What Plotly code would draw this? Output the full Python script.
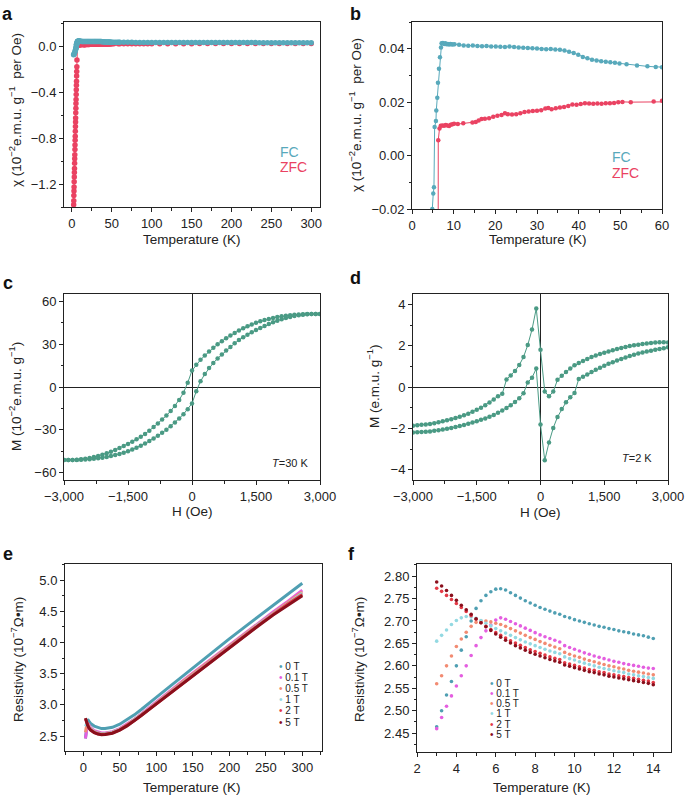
import plotly.graph_objects as go

W, H = 685, 795

# ---------------- Panels a / b : susceptibility ----------------
fc_temp = [2.0, 2.5, 3.0, 3.5, 4.0, 4.5, 4.87, 5.1, 5.27, 5.43, 5.75, 5.83, 6.07, 6.23, 6.47, 6.71, 6.95,
           7.1, 7.4, 7.7, 8.0, 8.3, 8.6, 8.9, 9.2, 9.5, 9.8, 10.2,
           11.3, 12.4, 13.5, 14.6, 15.7, 16.8, 17.9, 19.0, 20.1, 21.2, 22.3, 23.4, 24.5, 25.6, 26.7, 27.8,
           28.9, 30.0, 31.1, 32.2, 33.3, 34.4, 35.5, 36.6, 37.7, 38.8, 39.9, 41.0, 42.1, 43.2, 44.3, 45.4,
           46.5, 47.6, 48.7, 49.8, 51.5, 54.0, 56.5, 58.5, 60.0,
           65, 70, 75, 80, 85, 90, 95, 100, 105, 110, 115, 120, 125, 130, 135, 140, 145, 150, 155, 160,
           165, 170, 175, 180, 185, 190, 195, 200, 205, 210, 215, 220, 225, 230, 235, 240, 245, 250, 255,
           260, 265, 270, 275, 280, 285, 290, 295, 300]
fc_chi = [-0.075, -0.071, -0.064, -0.054, -0.043, -0.031, -0.020, -0.0142, -0.0119, 0.0107, 0.0129, 0.0169,
          0.0216, 0.0273, 0.0325, 0.0368, 0.0405,
          0.0420, 0.0421, 0.0418, 0.0420, 0.0417, 0.0418, 0.0416, 0.0418, 0.0417, 0.0416, 0.0417,
          0.0415, 0.0412, 0.0411, 0.0412, 0.0410, 0.0409, 0.0410, 0.0408, 0.0408, 0.0407, 0.0406, 0.0408,
          0.0406, 0.0405, 0.0404, 0.0403, 0.0402, 0.0401, 0.0399, 0.0398, 0.0399, 0.0397, 0.0396, 0.0393,
          0.0389, 0.0384, 0.0377, 0.0369, 0.0364, 0.0359, 0.0356, 0.0353, 0.0351, 0.0349, 0.0347, 0.0345,
          0.0342, 0.0337, 0.0334, 0.0332, 0.0331,
          0.0329, 0.0328, 0.0327, 0.0326, 0.0325, 0.0324, 0.0323, 0.0322, 0.0322, 0.0321, 0.0320, 0.0319,
          0.0318, 0.0318, 0.0317, 0.0316, 0.0316, 0.0315, 0.0314, 0.0314, 0.0313, 0.0312, 0.0312, 0.0311,
          0.0311, 0.0310, 0.0309, 0.0309, 0.0308, 0.0308, 0.0307, 0.0307, 0.0306, 0.0306, 0.0305, 0.0305,
          0.0304, 0.0304, 0.0303, 0.0303, 0.0302, 0.0302, 0.0302, 0.0301, 0.0301, 0.0300, 0.0300, 0.0300]

zfc_temp = [2.0, 2.1, 2.25, 2.35, 2.5, 2.6, 2.75, 2.9, 3.0, 3.15, 3.3, 3.4, 3.55, 3.7, 3.8, 3.95, 4.1,
            4.2, 4.35, 4.5, 4.6, 4.75, 4.9, 5.0, 5.15, 5.3, 5.4, 5.55, 5.7, 5.8, 5.95, 6.1, 6.25,
            6.3, 6.6, 6.9, 7.3, 7.7, 8.1, 8.5, 8.9, 9.3, 9.7, 10.1, 11.0, 12.3, 14.5, 15.3, 16.0, 16.7,
            17.5, 18.5, 19.5, 20.5, 21.5, 22.3, 23.0, 24.0, 25.0, 26.0, 27.0, 28.0, 29.0, 30.0, 31.0,
            32.0, 32.7, 33.5, 34.5, 35.5, 36.5, 37.5, 38.5, 39.5, 40.5, 41.5, 42.5, 43.5, 44.5, 45.5,
            46.5, 47.5, 48.5, 49.5, 50.5, 52.5, 58.0, 60.0,
            65, 70, 75, 80, 85, 90, 95, 100, 110, 120, 130, 140, 150, 160, 170, 180, 190, 200, 210, 220,
            230, 240, 250, 260, 270, 280, 290, 300]
zfc_chi = [-1.42, -1.38, -1.345, -1.30, -1.26, -1.225, -1.18, -1.14, -1.10, -1.065, -1.02, -0.98, -0.945,
           -0.90, -0.86, -0.82, -0.785, -0.74, -0.70, -0.66, -0.625, -0.58, -0.54, -0.50, -0.465, -0.42,
           -0.38, -0.34, -0.305, -0.26, -0.22, -0.18, -0.12,
           0.0057, 0.0101, 0.0112, 0.0113, 0.0112, 0.0114, 0.0113, 0.0111, 0.0115, 0.0117, 0.0119, 0.0118,
           0.0121, 0.0124, 0.0126, 0.0131, 0.0137, 0.0138, 0.0140, 0.0145, 0.0149, 0.0152, 0.0158, 0.0155,
           0.0154, 0.0155, 0.0158, 0.0163, 0.0165, 0.0167, 0.0168, 0.0170, 0.0176, 0.0178, 0.0173, 0.0177,
           0.0180, 0.0182, 0.0186, 0.0191, 0.0190, 0.0193, 0.0196, 0.0195, 0.0194, 0.0195, 0.0194, 0.0196,
           0.0196, 0.0197, 0.0200, 0.0201, 0.0200, 0.0202, 0.0205,
           0.0207, 0.0208, 0.0209, 0.0210, 0.0211, 0.0212, 0.0212, 0.0213, 0.0214, 0.0215, 0.0216, 0.0217,
           0.0218, 0.0219, 0.0220, 0.0221, 0.0222, 0.0223, 0.0224, 0.0225, 0.0226, 0.0227, 0.0228, 0.0229,
           0.0230, 0.0231, 0.0232, 0.0233]

# ---------------- Panels c / d : M-H loops ----------------
field_oe = [-3000, -2900, -2800, -2700, -2600, -2500, -2400, -2300, -2200, -2100, -2000, -1900, -1800,
            -1700, -1600, -1500, -1400, -1300, -1200, -1100, -1000, -900, -800, -700, -600, -500, -400,
            -300, -200, -100, 0, 100, 200, 300, 400, 500, 600, 700, 800, 900, 1000, 1100, 1200, 1300,
            1400, 1500, 1600, 1700, 1800, 1900, 2000, 2100, 2200, 2300, 2400, 2500, 2600, 2700, 2800,
            2900, 3000]
m30_down = [-51.0, -51.0, -51.0, -50.8, -50.5, -50.1, -49.6, -49.0, -48.2, -47.3, -46.3, -45.2, -44.0,
            -42.6, -41.2, -39.8, -38.3, -36.6, -34.8, -32.8, -30.5, -28.0, -25.5, -22.8, -20.0, -16.8,
            -13.2, -9.0, -4.0, 3.0, 11.5, 15.5, 19.0, 22.0, 24.8, 27.4, 29.8, 32.0, 34.1, 36.0, 37.8,
            39.5, 41.0, 42.4, 43.7, 44.9, 45.9, 46.8, 47.6, 48.3, 48.9, 49.4, 49.8, 50.2, 50.5, 50.7,
            50.9, 51.0, 51.0, 51.0, 51.0]
m30_up = [-51.0, -51.0, -51.0, -51.0, -50.9, -50.7, -50.5, -50.2, -49.8, -49.4, -48.9, -48.3, -47.6,
          -46.8, -45.9, -44.9, -43.7, -42.4, -41.0, -39.5, -37.8, -36.0, -34.1, -32.0, -29.8, -27.4,
          -24.8, -22.0, -19.0, -15.5, -11.5, -3.0, 4.0, 9.0, 13.2, 16.8, 20.0, 22.8, 25.5, 28.0, 30.5,
          32.8, 34.8, 36.6, 38.3, 39.8, 41.2, 42.6, 44.0, 45.2, 46.3, 47.3, 48.2, 49.0, 49.6, 50.1,
          50.5, 50.8, 51.0, 51.0, 51.0]
m2_branch1 = [-1.87, -1.85, -1.83, -1.82, -1.79, -1.75, -1.71, -1.66, -1.61, -1.56, -1.50, -1.44, -1.37,
              -1.29, -1.20, -1.10, -1.00, -0.88, -0.75, -0.60, -0.45, -0.33, 0.36, 0.56, 0.78, 1.06,
              1.45, 2.03, 2.78, 3.80, 1.80, -0.22, -0.45, -0.22, 0.35, 0.55, 0.72, 0.90, 1.05, 1.16,
              1.26, 1.36, 1.45, 1.53, 1.60, 1.66, 1.72, 1.78, 1.84, 1.89, 1.94, 1.98, 2.02, 2.05, 2.08,
              2.11, 2.13, 2.15, 2.16, 2.16, 2.15]
m2_branch2 = [-2.20, -2.19, -2.18, -2.17, -2.15, -2.12, -2.09, -2.06, -2.02, -1.98, -1.94, -1.89, -1.84,
              -1.78, -1.72, -1.66, -1.59, -1.52, -1.44, -1.35, -1.25, -1.14, -1.02, -0.88, -0.72, -0.55,
              -0.30, 0.22, 0.45, 0.89, -1.82, -3.55, -2.68, -1.98, -1.45, -1.06, -0.74, -0.50, -0.29,
              0.39, 0.50, 0.61, 0.72, 0.83, 0.93, 1.03, 1.12, 1.20, 1.28, 1.36, 1.43, 1.50, 1.56, 1.62,
              1.67, 1.72, 1.76, 1.80, 1.84, 1.88, 1.92]

# ---------------- Panel e : resistivity 0-300 K ----------------
field_labels = ["0 T", "0.1 T", "0.5 T", "1 T", "2 T", "5 T"]
field_colors = ["#4f9fb2", "#e45ee0", "#f28b72", "#93d9e2", "#e43a46", "#8a0f1c"]
temp_e = [3, 4, 5, 6, 8, 10, 15, 20, 25, 30, 40, 50, 60, 70, 80, 90, 100, 120, 140, 160, 180, 200, 220,
          240, 260, 280, 300]
rho_e = [
    [2.46, 2.60, 2.73, 2.77, 2.735, 2.703, 2.66, 2.635, 2.62, 2.62, 2.64, 2.69, 2.76, 2.84, 2.93, 3.02,
     3.12, 3.31, 3.50, 3.69, 3.88, 4.06, 4.24, 4.42, 4.60, 4.78, 4.95],
    [2.46, 2.555, 2.645, 2.702, 2.674, 2.637, 2.585, 2.56, 2.548, 2.55, 2.57, 2.62, 2.69, 2.77, 2.86,
     2.95, 3.04, 3.23, 3.42, 3.60, 3.78, 3.96, 4.13, 4.31, 4.49, 4.66, 4.84],
    [2.56, 2.643, 2.697, 2.695, 2.659, 2.622, 2.575, 2.55, 2.54, 2.542, 2.562, 2.612, 2.68, 2.76, 2.85,
     2.94, 3.03, 3.22, 3.41, 3.59, 3.77, 3.95, 4.12, 4.30, 4.47, 4.64, 4.81],
    [2.655, 2.701, 2.706, 2.683, 2.645, 2.613, 2.568, 2.545, 2.535, 2.537, 2.557, 2.607, 2.675, 2.755,
     2.845, 2.935, 3.025, 3.21, 3.40, 3.58, 3.76, 3.94, 4.11, 4.29, 4.46, 4.63, 4.79],
    [2.773, 2.739, 2.704, 2.674, 2.632, 2.601, 2.56, 2.537, 2.527, 2.53, 2.55, 2.60, 2.668, 2.748, 2.838,
     2.928, 3.018, 3.20, 3.39, 3.57, 3.75, 3.93, 4.10, 4.28, 4.45, 4.62, 4.77],
    [2.787, 2.746, 2.705, 2.671, 2.626, 2.596, 2.555, 2.532, 2.522, 2.525, 2.545, 2.595, 2.663, 2.743,
     2.833, 2.923, 3.013, 3.195, 3.38, 3.56, 3.74, 3.92, 4.09, 4.27, 4.44, 4.60, 4.75],
]

# ---------------- Panel f : resistivity 3-14 K ----------------
temp_f = [3.0, 3.25, 3.5, 3.75, 4.0, 4.25, 4.5, 4.75, 5.0, 5.25, 5.5, 5.75, 6.0, 6.25, 6.5, 6.75, 7.0,
          7.25, 7.5, 7.75, 8.0, 8.25, 8.5, 8.75, 9.0, 9.25, 9.5, 9.75, 10.0, 10.25, 10.5, 10.75, 11.0,
          11.25, 11.5, 11.75, 12.0, 12.25, 12.5, 12.75, 13.0, 13.25, 13.5, 13.75, 14.0]
rho_f = [
    [2.464, 2.500, 2.535, 2.565, 2.600, 2.635, 2.665, 2.700, 2.728, 2.745, 2.757, 2.765, 2.771, 2.772,
     2.769, 2.763, 2.757, 2.751, 2.745, 2.740, 2.735, 2.730, 2.726, 2.722, 2.718, 2.715, 2.710, 2.707,
     2.703, 2.700, 2.697, 2.694, 2.691, 2.688, 2.686, 2.683, 2.681, 2.678, 2.676, 2.674, 2.671, 2.669,
     2.667, 2.664, 2.661],
    [2.460, 2.485, 2.510, 2.533, 2.555, 2.578, 2.600, 2.623, 2.645, 2.663, 2.678, 2.691, 2.702, 2.707,
     2.704, 2.699, 2.694, 2.689, 2.684, 2.679, 2.674, 2.669, 2.665, 2.661, 2.657, 2.653, 2.645, 2.641,
     2.637, 2.633, 2.629, 2.626, 2.622, 2.619, 2.616, 2.613, 2.610, 2.608, 2.605, 2.603, 2.601, 2.599,
     2.597, 2.595, 2.594],
    [2.560, 2.578, 2.600, 2.622, 2.643, 2.660, 2.675, 2.688, 2.697, 2.700, 2.700, 2.698, 2.695, 2.692,
     2.688, 2.683, 2.678, 2.673, 2.668, 2.663, 2.659, 2.654, 2.650, 2.646, 2.642, 2.638, 2.630, 2.626,
     2.622, 2.619, 2.615, 2.612, 2.609, 2.606, 2.603, 2.600, 2.598, 2.595, 2.593, 2.590, 2.588, 2.586,
     2.584, 2.582, 2.580],
    [2.655, 2.668, 2.680, 2.692, 2.701, 2.707, 2.710, 2.709, 2.706, 2.701, 2.695, 2.689, 2.683, 2.678,
     2.673, 2.668, 2.663, 2.658, 2.653, 2.649, 2.645, 2.641, 2.637, 2.633, 2.630, 2.627, 2.620, 2.616,
     2.613, 2.609, 2.606, 2.603, 2.600, 2.597, 2.594, 2.592, 2.589, 2.587, 2.585, 2.582, 2.580, 2.578,
     2.576, 2.574, 2.572],
    [2.773, 2.766, 2.757, 2.748, 2.739, 2.730, 2.721, 2.712, 2.704, 2.696, 2.688, 2.681, 2.674, 2.668,
     2.662, 2.656, 2.651, 2.646, 2.641, 2.636, 2.632, 2.628, 2.624, 2.620, 2.617, 2.614, 2.607, 2.604,
     2.601, 2.598, 2.595, 2.592, 2.590, 2.587, 2.585, 2.582, 2.580, 2.578, 2.576, 2.574, 2.572, 2.570,
     2.568, 2.566, 2.563],
    [2.787, 2.778, 2.768, 2.757, 2.746, 2.735, 2.725, 2.715, 2.705, 2.696, 2.687, 2.679, 2.671, 2.664,
     2.657, 2.651, 2.645, 2.640, 2.635, 2.630, 2.626, 2.622, 2.618, 2.614, 2.611, 2.608, 2.602, 2.599,
     2.596, 2.593, 2.590, 2.587, 2.585, 2.582, 2.580, 2.577, 2.575, 2.573, 2.571, 2.569, 2.567, 2.565,
     2.563, 2.561, 2.558],
]

FC_COLOR = "#58a9bb"
ZFC_COLOR = "#ea4262"
MH_COLOR = "#4a9a84"
AX = "#222222"
FONT = "Liberation Sans, Arial, sans-serif"


def px(x):
    return x / W


def py(y):
    return 1 - y / H


fig = go.Figure()

# panel a
fig.add_trace(go.Scatter(x=zfc_temp, y=zfc_chi, mode="lines+markers", xaxis="x", yaxis="y",
                         line=dict(color=ZFC_COLOR, width=1), marker=dict(color=ZFC_COLOR, size=5.5),
                         showlegend=False))
fig.add_trace(go.Scatter(x=fc_temp, y=fc_chi, mode="lines+markers", xaxis="x", yaxis="y",
                         line=dict(color=FC_COLOR, width=1), marker=dict(color=FC_COLOR, size=5.5),
                         showlegend=False))
# panel b
fig.add_trace(go.Scatter(x=zfc_temp, y=zfc_chi, mode="lines+markers", xaxis="x2", yaxis="y2",
                         line=dict(color=ZFC_COLOR, width=1), marker=dict(color=ZFC_COLOR, size=4.5),
                         showlegend=False))
fig.add_trace(go.Scatter(x=fc_temp, y=fc_chi, mode="lines+markers", xaxis="x2", yaxis="y2",
                         line=dict(color=FC_COLOR, width=1), marker=dict(color=FC_COLOR, size=4.5),
                         showlegend=False))
# panel c
for m in (m30_down, m30_up):
    fig.add_trace(go.Scatter(x=field_oe, y=m, mode="lines+markers", xaxis="x3", yaxis="y3",
                             line=dict(color=MH_COLOR, width=1), marker=dict(color=MH_COLOR, size=4.5),
                             showlegend=False))
# panel d
for m in (m2_branch1, m2_branch2):
    fig.add_trace(go.Scatter(x=field_oe, y=m, mode="lines+markers", xaxis="x4", yaxis="y4",
                             line=dict(color=MH_COLOR, width=1), marker=dict(color=MH_COLOR, size=4.5),
                             showlegend=False))
# panel e
for rho, col in zip(rho_e, field_colors):
    fig.add_trace(go.Scatter(x=temp_e, y=rho, mode="lines", xaxis="x5", yaxis="y5",
                             line=dict(color=col, width=3), showlegend=False))
# panel f
for rho, col in zip(rho_f, field_colors):
    fig.add_trace(go.Scatter(x=temp_f, y=rho, mode="markers", xaxis="x6", yaxis="y6",
                             marker=dict(color=col, size=3.6), showlegend=False))


def axis(domain, rng, dtick, minor_dtick, anchor, tick0=0, fmt=None, zeroline=False):
    d = dict(domain=domain, range=rng, dtick=dtick, tick0=tick0, anchor=anchor, automargin=False,
             showline=True, linecolor=AX, linewidth=1, mirror=True,
             ticks="outside", ticklen=4, tickwidth=1, tickcolor=AX,
             showgrid=False, zeroline=zeroline, zerolinecolor=AX, zerolinewidth=1,
             tickfont=dict(size=13, color=AX, family=FONT),
             minor=dict(ticks="outside", ticklen=2.5, tickwidth=1, tickcolor=AX, dtick=minor_dtick,
                        tick0=tick0, showgrid=False))
    if fmt:
        d["tickformat"] = fmt
    return d


def dom_x(x0, x1):
    return [x0 / W, x1 / W]


def dom_y(y0, y1):
    return [1 - y1 / H, 1 - y0 / H]


fig.update_layout(
    width=W, height=H, margin=dict(l=0, r=0, t=0, b=0, autoexpand=False),
    paper_bgcolor="white", plot_bgcolor="white",
    font=dict(family=FONT, color=AX, size=13),
    xaxis=axis(dom_x(64, 320), [-10, 311], 50, 25, "y"),
    yaxis=axis(dom_y(22, 207), [-1.4, 0.21], 0.4, 0.2, "x", fmt=".1f"),
    xaxis2=axis(dom_x(412, 662), [0, 60], 10, 5, "y2"),
    yaxis2=axis(dom_y(22, 209), [-0.02, 0.05], 0.02, 0.01, "x2", fmt=".2f"),
    xaxis3=axis(dom_x(64, 320), [-3000, 3000], 1500, 750, "y3", fmt=",d", zeroline=True),
    yaxis3=axis(dom_y(294, 480), [-65, 65], 30, 15, "x3", zeroline=True),
    xaxis4=axis(dom_x(413, 668), [-3000, 3000], 1500, 750, "y4", fmt=",d", zeroline=True),
    yaxis4=axis(dom_y(294, 480), [-4.5, 4.5], 2, 1, "x4", zeroline=True),
    xaxis5=axis(dom_x(65, 322), [-25, 327], 50, 25, "y5"),
    yaxis5=axis(dom_y(564, 751), [2.26, 5.26], 0.5, 0.25, "x5", tick0=2.5, fmt=".1f"),
    xaxis6=axis(dom_x(417, 671), [2, 14.9], 2, 1, "y6"),
    yaxis6=axis(dom_y(564, 752), [2.408, 2.827], 0.05, 0.025, "x6", tick0=2.45, fmt=".2f"),
)

ann = []


def text(x, y, s, size=13.5, xanchor="center", angle=0, color=AX, bold=False):
    ann.append(dict(x=px(x), y=py(y), xref="paper", yref="paper", text=(f"<b>{s}</b>" if bold else s),
                    showarrow=False, xanchor=xanchor, yanchor="middle", textangle=angle,
                    font=dict(size=size, color=color, family=FONT)))


# panel letters
for lab, x, y in [("a", 8, 14), ("b", 355, 14), ("c", 8, 283), ("d", 355, 278), ("e", 8, 554),
                  ("f", 351, 554)]:
    text(x, y, lab, size=18, bold=True, color="#111")

# axis titles
chi_title = "χ (10<sup>−2</sup>e.m.u. g<sup>−1</sup>  per Oe)"
text(15, 110, chi_title, angle=-90)
text(192, 240, "Temperature (K)")
text(355, 115, chi_title, angle=-90)
text(538, 240, "Temperature (K)")
text(15, 397, "M (10<sup>−2</sup>e.m.u. g<sup>−1</sup>)", angle=-90)
text(192, 511, "H (Oe)")
text(373, 386, "M (e.m.u. g<sup>−1</sup>)", angle=-90)
text(540, 512, "H (Oe)")
text(17, 660, "Resistivity (10<sup>−7</sup>Ω•m)", angle=-90)
text(192, 787, "Temperature (K)")
text(358, 660, "Resistivity (10<sup>−7</sup>Ω•m)", angle=-90)
text(542, 787, "Temperature (K)")

# FC / ZFC labels
text(278, 152, "FC", size=14, xanchor="left", color=FC_COLOR)
text(278, 167, "ZFC", size=14, xanchor="left", color=ZFC_COLOR)
text(610, 157, "FC", size=14, xanchor="left", color=FC_COLOR)
text(610, 173, "ZFC", size=14, xanchor="left", color=ZFC_COLOR)

# temperature notes
text(270, 463, "<i>T</i>=30 K", size=11, xanchor="left")
text(620, 458, "<i>T</i>=2 K", size=11, xanchor="left")

# legends (e and f)
for i, (lab, col) in enumerate(zip(field_labels, field_colors)):
    text(277, 666 + i * 11.2, f"<span style='color:{col}'>•</span> {lab}", size=10, xanchor="left")
    text(488, 683 + i * 10.3, f"<span style='color:{col}'>•</span> {lab}", size=10, xanchor="left")

fig.update_layout(annotations=ann)
fig.write_html("out.html", config={"displayModeBar": False},
               post_script="document.body.style.margin='0';document.body.style.overflow='hidden';")
